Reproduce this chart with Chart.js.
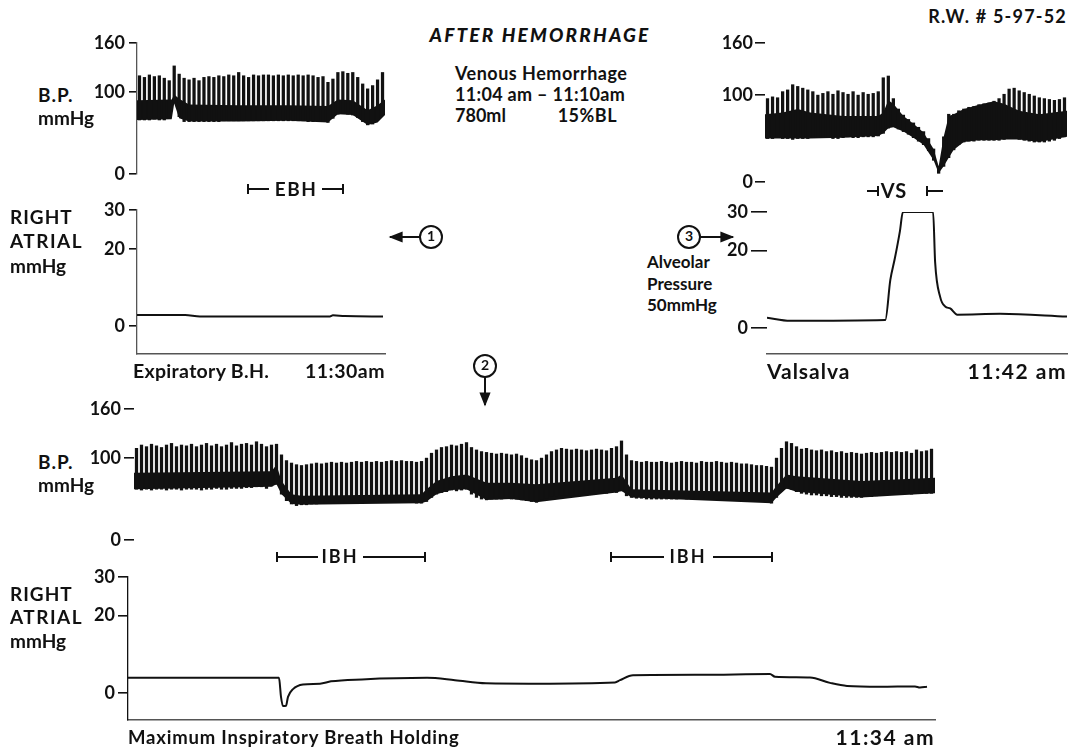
<!DOCTYPE html>
<html>
<head>
<meta charset="utf-8">
<script src="https://cdn.jsdelivr.net/npm/chart.js@4.4.1/dist/chart.umd.min.js"></script>
<style>
  body { margin: 0; background: #fff; width: 1070px; height: 747px; position: relative; overflow: hidden;
         font-family: Lato, "Liberation Sans", sans-serif; color: #111; }
  canvas { position: absolute; }
  .t { position: absolute; white-space: nowrap; font-weight: 700; line-height: 1; }
  svg { position: absolute; left: 0; top: 0; }
</style>
</head>
<body>
<script>
// ---- data (x = beat number in each record, y = mmHg) ----

// top left: B.P. before / during expiratory breath holding (one bar per beat)
const tlSys = [120,118,121,119,120,117,114,132,122,117,115,117,114,118,119,118,120,119,121,120,
               124,120,118,121,120,121,121,120,121,120,121,120,121,120,121,120,118,119,112,116,
               124,125,123,124,118,110,104,108,115,124];
const tlDia = [66,66,66,67,66,66,68,88,70,64,64,64,64,64,64,64,64,65,65,65,
               65,65,65,65,65,65,65,65,65,65,65,65,65,65,64,64,64,64,63,68,
               73,74,73,72,69,64,60,61,66,72];
const tlBandT  = [-0.5, 6.5, 7, 8, 10, 20, 30, 38, 40, 43, 46, 48, 49.5];
const tlBandLo = [66, 67, 86, 68, 64, 64, 65, 63, 73, 72, 60, 63, 72];
const tlBandHi = [90, 91, 97, 92, 85, 84, 84, 83, 91, 90, 78, 84, 91];
// top left: right atrial pressure
const tlRaT = [-0.5, 9.2, 12.2, 38.4, 39, 41.4, 49.1];
const tlRa  = [2.9, 2.9, 2.5, 2.5, 2.8, 2.6, 2.5];

// top right: B.P. during Valsalva
const trSys = [96,98,97,104,106,112,110,108,106,104,100,102,104,101,105,103,101,104,100,103,
               101,102,104,120,122,96,84,77,72,68,63,58,50,38,18,52,78,78,82,84,
               86,87,89,90,91,93,96,101,107,108,105,103,101,99,97,96,95,94,95,97];
const trDia = [50,50,51,50,50,49,50,50,50,51,51,51,51,50,50,51,52,51,51,52,
               52,52,53,56,62,64,61,58,55,51,47,43,36,25,10,18,28,37,43,46,
               47,47,48,48,48,48,48,49,50,50,49,48,47,46,46,46,47,48,50,52];
const trBandT  = [-0.5, 3, 6, 8.5, 15, 22, 23, 24, 25, 27, 29, 31, 33, 34, 35, 36, 37, 39, 42, 45, 47, 50, 54, 59.5];
const trBandLo = [50, 50, 50, 50, 51, 53, 56, 62, 63, 58, 51, 43, 25, 10, 18, 28, 37, 46, 48, 48, 49, 49, 46, 52];
const trBandHi = [78, 80, 84, 80, 76, 76, 80, 94, 90, 76, 67, 57, 38, 18, 52, 76, 78, 84, 89, 93, 90, 82, 78, 82];
// top right: right atrial / alveolar pressure
const trRaT = [-0.1, 4.5, 23.4, 24.4, 25.3, 26.3, 26.9, 32.9, 33.3, 34.3, 35.3, 36.3, 37.7, 46.2, 59.5];
const trRa  = [2.6, 1.8, 2.0, 12.4, 18, 25, 30, 30, 17, 8, 5.5, 5, 3.4, 3.6, 2.9];

// bottom: B.P. during maximum inspiratory breath holding
const btSys = [112,116,114,117,115,113,116,118,114,116,115,117,114,116,118,115,117,114,116,119,
               115,117,118,116,120,117,114,116,117,104,97,94,92,91,92,93,94,93,94,95,
               94,95,94,95,96,95,96,95,96,95,96,97,96,97,96,96,95,96,100,106,
               110,113,114,116,115,117,119,113,110,108,107,106,105,106,105,104,105,103,100,98,
               97,100,104,108,110,112,111,110,111,110,109,110,111,110,109,112,114,121,104,97,
               96,95,96,95,95,96,95,94,95,96,95,95,94,96,95,95,96,95,94,95,
               94,93,93,92,91,91,90,89,100,112,120,118,114,111,112,110,109,110,108,109,
               107,108,106,107,106,105,106,107,106,107,108,107,108,107,108,106,110,108,109,111];
const btDia = [62,61,62,61,62,62,61,62,62,61,62,62,62,61,62,62,63,62,62,63,
               63,63,64,64,65,65,63,66,68,56,48,44,42,43,43,44,44,45,45,45,
               45,46,46,46,46,46,46,46,46,47,47,47,47,47,47,46,45,45,47,52,
               56,58,59,61,60,61,62,56,52,50,49,50,50,50,51,50,50,49,48,47,
               46,50,51,53,54,55,55,55,55,56,56,57,57,57,57,58,58,60,54,52,
               51,51,50,50,50,50,50,50,50,51,50,50,50,50,50,50,50,50,50,50,
               50,49,49,48,48,47,46,45,52,60,63,62,59,57,56,55,55,54,54,53,
               53,52,52,52,52,52,53,53,54,55,55,56,56,57,57,56,57,57,57,57];
const btBandT  = [-0.5, 27, 28, 29, 31, 33, 57, 58, 60, 63, 66, 70, 75, 80, 96, 97, 99, 127, 128, 130, 132, 145, 159.7];
const btBandLo = [62, 65, 68, 56, 44, 43, 45, 47, 56, 61, 62, 49, 50, 46, 58, 60, 52, 45, 52, 63, 59, 52, 57];
const btBandHi = [82, 84, 92, 72, 56, 54, 56, 62, 72, 78, 80, 70, 70, 68, 76, 80, 62, 58, 66, 80, 78, 72, 76];
// bottom: right atrial pressure
const btRaT = [-1.7, 28.5, 28.9, 29.3, 29.9, 30.3, 31.3, 33.3, 36.7, 38.9, 45.1, 58.1, 63.7, 69.9, 80.1,
               95.7, 96.7, 99.3, 112.7, 126.7, 127.7, 134.7, 138.7, 142.1, 148.7, 155.7, 156.7, 158.1];
const btRa  = [3.9, 3.9, -1, -3.4, -3.3, -1.0, 1.0, 2.2, 2.4, 3.0, 3.5, 3.9, 3.3, 2.5, 2.4,
               2.7, 3.3, 4.6, 4.7, 4.9, 4.2, 4.0, 2.6, 1.8, 1.6, 1.7, 1.4, 1.6];

const bpTicks = [0, 100, 160];
const raTicks = [0, 20, 30];

// ---- drawing ----
const INK = '#111';
const FONT = { family: 'Lato, "Liberation Sans", sans-serif', size: 18, weight: 'bold' };

function bpSets(sys, dia, bt, lo, hi) {
  return [
    { type: 'bar', data: sys.map((s, i) => ({ x: i, y: [dia[i], s] })),
      backgroundColor: INK, barThickness: 2.6 },
    { type: 'line', data: bt.map((t, i) => ({ x: t, y: lo[i] })),
      borderWidth: 0, pointRadius: 0, fill: false },
    { type: 'line', data: bt.map((t, i) => ({ x: t, y: hi[i] })),
      borderWidth: 0, pointRadius: 0, fill: '-1', backgroundColor: INK }
  ];
}
function raSet(t, v) {
  return [{ type: 'line', data: t.map((x, i) => ({ x: x, y: v[i] })), borderColor: INK,
            borderWidth: 2, pointRadius: 0, cubicInterpolationMode: 'monotone' }];
}

function panel(c) {
  const W = c.axisW, P = 14;
  const cv = document.createElement('canvas');
  const w = c.x1 - c.x0 + W + P, h = c.y1 - c.y0 + 2 * P;
  cv.style.left = (c.x0 - W) + 'px';
  cv.style.top = (c.y0 - P) + 'px';
  cv.style.width = w + 'px';
  cv.style.height = h + 'px';
  cv.width = w; cv.height = h;
  document.body.appendChild(cv);
  return new Chart(cv, {
    type: 'bar',
    data: { datasets: c.datasets },
    options: {
      responsive: false, animation: false, maintainAspectRatio: false,
      layout: { padding: { top: P, bottom: P, left: 0, right: P } },
      plugins: { legend: { display: false }, tooltip: { enabled: false } },
      scales: {
        x: {
          type: 'linear', min: c.xMin, max: c.xMax, offset: false, display: !!c.xDots,
          ticks: { display: false }, grid: { display: false, drawTicks: false },
          border: { display: !!c.xDots, color: '#555', width: 1.4, dash: [1, 2] },
          afterFit: s => { s.height = 0; s.paddingLeft = 0; s.paddingRight = 0; }
        },
        y: {
          min: c.yMin, max: c.yMax,
          afterBuildTicks: s => { s.ticks = c.ticks.map(v => ({ value: v })); },
          afterFit: s => { s.width = W; s.paddingTop = 0; s.paddingBottom = 0; },
          ticks: { color: INK, font: FONT, padding: c.tickPad, autoSkip: false },
          grid: { drawOnChartArea: false, drawTicks: true, tickLength: c.tickLen, color: INK, lineWidth: 1.6 },
          border: { display: c.yLine !== 'none', color: c.yLine === 'dot' ? '#555' : INK, width: 1.3,
                    dash: c.yLine === 'dot' ? [1, 2] : [] }
        }
      }
    }
  });
}

panel({ x0: 137, x1: 385, y0: 43, y1: 174, axisW: 60, xMin: -0.5, xMax: 49.5, yMin: 0, yMax: 160,
        ticks: bpTicks, tickLen: 8, tickPad: 4, yLine: 'dot',
        datasets: bpSets(tlSys, tlDia, tlBandT, tlBandLo, tlBandHi) });
panel({ x0: 137, x1: 385, y0: 210, y1: 354, axisW: 50, xMin: -0.5, xMax: 49.5, yMin: -7.2, yMax: 30,
        ticks: raTicks, tickLen: 8, tickPad: 4, yLine: 'dot', xDots: true,
        datasets: raSet(tlRaT, tlRa) });
panel({ x0: 765, x1: 1067, y0: 43, y1: 182, axisW: 60, xMin: -0.5, xMax: 59.5, yMin: 0, yMax: 160,
        ticks: bpTicks, tickLen: 10, tickPad: 2, yLine: 'none',
        datasets: bpSets(trSys, trDia, trBandT, trBandLo, trBandHi) });
panel({ x0: 767, x1: 1067, y0: 212, y1: 354, axisW: 50, xMin: -0.1, xMax: 59.5, yMin: -6.8, yMax: 30,
        ticks: raTicks, tickLen: 16, tickPad: 3, yLine: 'none', xDots: true,
        datasets: raSet(trRaT, trRa) });
panel({ x0: 134, x1: 935, y0: 409, y1: 540, axisW: 60, xMin: -0.5, xMax: 159.7, yMin: 0, yMax: 160,
        ticks: bpTicks, tickLen: 10, tickPad: 3, yLine: 'none',
        datasets: bpSets(btSys, btDia, btBandT, btBandLo, btBandHi) });
panel({ x0: 128, x1: 935, y0: 577, y1: 720, axisW: 50, xMin: -1.7, xMax: 159.7, yMin: -7, yMax: 30,
        ticks: raTicks, tickLen: 10, tickPad: 3, yLine: 'solid', xDots: true,
        datasets: raSet(btRaT, btRa) });

// ---- text ----
function txt(s, x, cy, size, opt) {
  opt = opt || {};
  const d = document.createElement('div');
  d.className = 't';
  d.textContent = s;
  d.style.fontSize = size + 'px';
  d.style.top = (cy - size * 0.55) + 'px';
  if (opt.right) { d.style.right = (1070 - x) + 'px'; } else if (opt.center) {
    d.style.left = x + 'px'; d.style.transform = 'translateX(-50%)';
  } else { d.style.left = x + 'px'; }
  if (opt.italic) d.style.fontStyle = 'italic';
  if (opt.ls) d.style.letterSpacing = opt.ls + 'px';
  if (opt.weight) d.style.fontWeight = opt.weight;
  document.body.appendChild(d);
}
txt('AFTER HEMORRHAGE', 540, 35, 19, { center: true, italic: true, ls: 2.2, weight: 900 });
txt('Venous Hemorrhage', 455, 74, 18, { ls: 0.5 });
txt('11:04 am \u2013 11:10am', 455, 95, 18, { ls: 0.3 });
txt('780ml', 455, 116, 18);
txt('15%BL', 617, 116, 18, { right: true, ls: 0.5 });
txt('R.W. # 5-97-52', 1067, 17, 18, { right: true, ls: 1.2 });

txt('B.P.', 38, 95, 19, { ls: 1 });
txt('mmHg', 38, 118, 19);
txt('RIGHT', 10, 217, 19, { ls: 1 });
txt('ATRIAL', 10, 241, 19, { ls: 1.5 });
txt('mmHg', 10, 266, 19);
txt('B.P.', 38, 462, 19, { ls: 1 });
txt('mmHg', 38, 485, 19);
txt('RIGHT', 10, 594, 19, { ls: 1 });
txt('ATRIAL', 10, 617, 19, { ls: 1.5 });
txt('mmHg', 10, 641, 19);

txt('EBH', 296, 189, 19, { center: true, ls: 1.5 });
txt('VS', 894, 191, 20, { center: true, ls: 1 });
txt('IBH', 340, 557, 18, { center: true, ls: 2 });
txt('IBH', 688, 557, 18, { center: true, ls: 2 });

txt('Alveolar', 647, 262, 17);
txt('Pressure', 647, 284, 17);
txt('50mmHg', 647, 305, 17);

txt('Expiratory B.H.', 133, 372, 19.5, { ls: 0.3 });
txt('11:30am', 385, 372, 19.5, { right: true, ls: 0.5 });
txt('Valsalva', 767, 372, 21, { ls: 1 });
txt('11:42 am', 1067, 372, 21, { right: true, ls: 1.5 });
txt('Maximum Inspiratory Breath Holding', 128, 738, 18.5, { ls: 0.8 });
txt('11:34 am', 935, 738, 21, { right: true, ls: 1.5 });

txt('1', 431, 237, 14, { center: true });
txt('3', 689, 237, 14, { center: true });
txt('2', 485, 366, 14, { center: true });

// ---- markers (brackets, circles, arrows) ----
const svgNS = 'http://www.w3.org/2000/svg';
const svg = document.createElementNS(svgNS, 'svg');
svg.setAttribute('width', 1070); svg.setAttribute('height', 747);
svg.innerHTML = `
<defs><marker id="ah" viewBox="0 0 10 10" refX="9" refY="5" markerWidth="9" markerHeight="7" orient="auto">
<path d="M0,1 L10,5 L0,9 Z" fill="${INK}"/></marker></defs>
<g stroke="${INK}" stroke-width="2" fill="none">
  <path d="M248,184 V194 M248,189 H269 M322,189 H343 M343,184 V194"/>
  <path d="M867,191 H878 M878,186 V196 M927,186 V196 M927,191 H943"/>
  <path d="M277,552 V562 M277,557 H318 M363,557 H425 M425,552 V562"/>
  <path d="M611,552 V562 M611,557 H664 M713,557 H772 M772,552 V562"/>
  <circle cx="431" cy="237" r="11"/>
  <circle cx="689" cy="237" r="11"/>
  <circle cx="485" cy="366" r="11"/>
  <line x1="420" y1="237" x2="390" y2="237" marker-end="url(#ah)"/>
  <line x1="700" y1="237" x2="733" y2="237" marker-end="url(#ah)"/>
  <line x1="485" y1="377" x2="485" y2="405" marker-end="url(#ah)"/>
</g>`;
document.body.appendChild(svg);
</script>
</body>
</html>
